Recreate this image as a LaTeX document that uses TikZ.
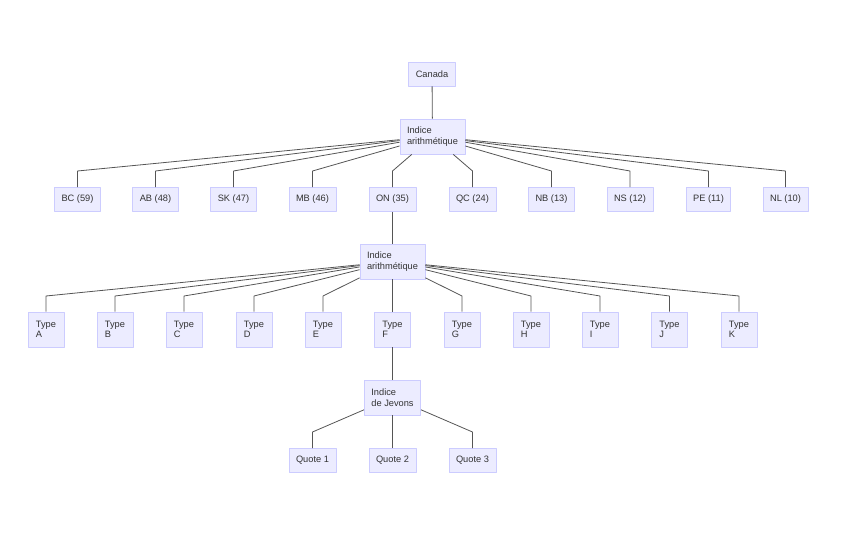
\documentclass[tikz,border=0pt]{standalone}
\usepackage{fontspec}
\setmainfont{Liberation Sans}
\definecolor{boxfill}{HTML}{ECECFF}
\definecolor{boxline}{HTML}{CCCCFF}
\definecolor{txt}{HTML}{333333}
\definecolor{edge}{HTML}{555555}
\tikzset{
  box/.style={draw=boxline, fill=boxfill, text=txt, font=\fontsize{9.3}{10.5}\selectfont,
    inner xsep=7bp, inner ysep=0pt, minimum height=24bp, line width=0.8bp},
  twoline/.style={box, align=left, minimum height=35bp, minimum width=36bp},
  link/.style={draw=edge, line width=0.8bp}
}
\begin{document}
\begin{tikzpicture}[x=1bp,y=-1bp,line join=round]
	\useasboundingbox (0,0) rectangle (848,546);
	% top
	\node[box] (canada) at (432,74) {Canada};
	\node[twoline] (ia) at (432.5,136.5) {Indice\\arithmétique};
	\draw[link] (canada) -- (ia);
	% provinces
	\foreach \n/\x/\t in {bc/77.5/{BC (59)},ab/155.5/{AB (48)},sk/233.5/{SK (47)},mb/312.5/{MB (46)},on/392.5/{ON (35)},qc/472.5/{QC (24)},nb/551.5/{NB (13)},ns/630/{NS (12)},pe/708.5/{PE (11)},nl/785.5/{NL (10)}}
	{
		\node[box] (\n) at (\x,199.5) {\t};
		\draw[link] (ia) -- (\x,171) -- (\n.north);
	}
	\node[twoline] (ib) at (392.5,261.5) {Indice\\arithmétique};
	\draw[link] (on) -- (ib);
	% types
	\foreach \n/\x in {A/46,B/115,C/184,D/254,E/323,F/392.5,G/462,H/531,I/600,J/669.5,K/739}
	{
		\node[twoline] (type\n) at (\x,329.5) {Type\\\n};
		\draw[link] (ib) -- (\x,296) -- (type\n.north);
	}
	\node[twoline] (jev) at (392.5,397.5) {Indice\\de Jevons};
	\draw[link] (typeF) -- (jev);
	% quotes
	\foreach \n/\x in {1/312.5,2/392.5,3/472.5}
	{
		\node[box] (quote\n) at (\x,460.5) {Quote \n};
		\draw[link] (jev) -- (\x,432) -- (quote\n.north);
	}
\end{tikzpicture}
\end{document}
